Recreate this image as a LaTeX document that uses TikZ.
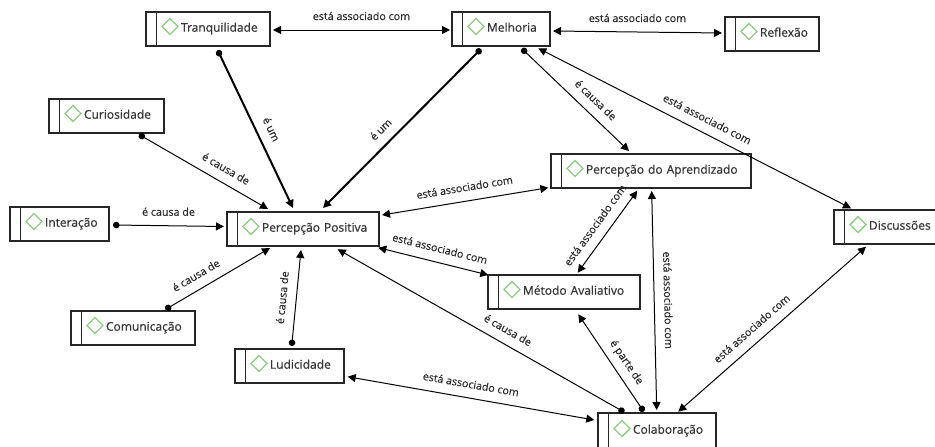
\documentclass[tikz,border=0pt]{standalone}
\usepackage{fontspec}
\setmainfont{Open Sans}
\newfontfamily\boxfamily[FakeBold=0.6]{Open Sans}
\newfontfamily\lblfamily[FakeBold=0.2]{Open Sans}
\usetikzlibrary{arrows.meta}
\definecolor{boxcol}{HTML}{262626}
\definecolor{txtcol}{HTML}{363636}
\definecolor{lbltxt}{HTML}{2A2A2A}
\definecolor{diacol}{HTML}{8CCF7E}
\newcommand{\nfont}{\boxfamily\fontsize{12}{14}\selectfont}
\newcommand{\lfont}{\lblfamily\fontsize{10.7}{12}\selectfont}
\begin{document}
\begin{tikzpicture}[x=1pt,y=-1pt,
  cbox/.style={draw=boxcol, line width=1.2pt, fill=white, minimum height=34pt,
    inner xsep=0pt, inner ysep=0pt, text width=#1, align=left, font=\nfont,
    text=txtcol, text height=8pt, text depth=2.6pt,
    path picture={
      \draw[boxcol, line width=1.1pt] ([xshift=10.5pt]path picture bounding box.north west) -- ([xshift=10.5pt]path picture bounding box.south west);
      \draw[diacol, line width=1.4pt] ([xshift=16pt,yshift=2.5pt]path picture bounding box.west) -- ++(8pt,8pt) -- ++(8pt,-8pt) -- ++(-8pt,-8pt) -- cycle;
    }},
  link/.style={line width=1pt, draw=black},
  thicklink/.style={line width=2pt, draw=black},
  dd/.style={arrows={Triangle[length=8pt,width=8pt]-Triangle[length=8pt,width=8pt]}},
  dA/.style={arrows={Circle[length=6.5pt]-Triangle[length=8pt,width=8pt]}},
  Ad/.style={arrows={Triangle[length=8pt,width=8pt]-Circle[length=6.5pt]}},
  lbl/.style={font=\lfont, text=lbltxt, inner xsep=0pt, inner ysep=9.5pt, text height=8pt, text depth=0pt}
]
\useasboundingbox (0,0) rectangle (935,447);
\fill[white] (0,0) rectangle (935,447);
\clip (0,0) rectangle (935,447);

\node[cbox=124pt] (tranq) at (208,29) {\hspace*{35pt}Tranquilidade};
\node[cbox=98pt] (melh) at (501,29) {\hspace*{35pt}Melhoria};
\node[cbox=94pt] (refl) at (772,34) {\hspace*{35pt}Reflexão};
\node[cbox=115pt] (curio) at (106.5,116) {\hspace*{35pt}Curiosidade};
\node[cbox=99pt] (inter) at (59.5,224) {\hspace*{35pt}Interação};
\node[cbox=152pt] (pp) at (303,229) {\hspace*{35pt}Percepção Positiva};
\node[cbox=200pt] (pa) at (651,171) {\hspace*{35pt}Percepção do Aprendizado};
\node[cbox=108pt] (disc) at (888,227) {\hspace*{35pt}Discussões};
\node[cbox=124pt] (comu) at (133,328) {\hspace*{35pt}Comunicação};
\node[cbox=109pt] (ludi) at (289.5,366) {\hspace*{35pt}Ludicidade};
\node[cbox=152pt] (meto) at (564,292) {\hspace*{35pt}Método Avaliativo};
\node[cbox=118pt, minimum height=36pt] (colab) at (657,431) {\hspace*{35pt}Colaboração};

% C1
\draw[link,dd] ([shift={(65,1)}]tranq.center) -- ([shift={(-51,1)}]melh.center)
  node[lbl,midway,above] {está associado com};
% C2
\draw[link,dd] ([shift={(52,2)}]melh.center) -- ([shift={(-50,-1)}]refl.center)
  node[lbl,midway,above] {está associado com};
% C3
\draw[thicklink,dA] ([shift={(9.7,21.3)}]tranq.center) -- ([shift={(-10,-21)}]pp.center)
  node[lbl,pos=0.54,sloped,above] {é um};
% C4
\draw[thicklink,Ad] ([shift={(20,-21)}]pp.center) -- ([shift={(-20,20)}]melh.center)
  node[lbl,pos=0.43,sloped,above] {é um};
% C5
\draw[link,dA] ([shift={(32.5,18.5)}]curio.center) -- ([shift={(-35,-20)}]pp.center)
  node[lbl,pos=0.62,sloped,above] {é causa de};
% C6
\draw[link,dA] ([shift={(53.5,1)}]inter.center) -- ([shift={(-79,-2.5)}]pp.center)
  node[lbl,pos=0.5,above] {é causa de};
% C7
\draw[link,dA] ([shift={(32.4,-18.5)}]comu.center) -- ([shift={(-33,19)}]pp.center)
  node[lbl,pos=0.36,sloped,above] {é causa de};
% C8
\draw[link,dA] ([shift={(2.2,-20)}]ludi.center) -- ([shift={(-2,21)}]pp.center)
  node[lbl,pos=0.49,sloped,above] {é causa de};
% C9
\draw[link,dA] ([shift={(20.8,19.6)}]melh.center) -- ([shift={(-22,-20)}]pa.center)
  node[lbl,pos=0.6,sloped,above] {é causa de};
% C10
\draw[link,dd] ([shift={(37.3,19.3)}]melh.center) -- ([shift={(-37,-18.7)}]disc.center)
  node[lbl,pos=0.52,sloped,above] {está associado com};
% C11
\draw[link,dd] ([shift={(79,-14)}]pp.center) -- ([shift={(-102.7,16.7)}]pa.center)
  node[lbl,pos=0.51,sloped,above] {está associado com};
% C12
\draw[link,dd] ([shift={(75.3,18.7)}]pp.center) -- ([shift={(-75.7,-17)}]meto.center)
  node[lbl,pos=0.53,sloped,above] {está associado com};
% C13
\draw[link,dd] ([shift={(13.7,-19.3)}]meto.center) -- ([shift={(-13.7,19.7)}]pa.center)
  node[lbl,pos=0.48,sloped,above] {está associado com};
% C14
\draw[link,dd] ([shift={(0.7,20)}]pa.center) -- ([shift={(-0.3,-21)}]colab.center)
  node[lbl,pos=0.5,sloped,above] {está associado com};
% C15
\draw[link,Ad] ([shift={(14.3,22.3)}]meto.center) -- ([shift={(-13.3,-19.5)}]colab.center)
  node[lbl,pos=0.57,sloped,above] {é parte de};
% C16
\draw[link,Ad] ([shift={(34.7,20.3)}]pp.center) -- ([shift={(-32.7,-18.8)}]colab.center)
  node[lbl,pos=0.57,sloped,above] {é causa de};
% C17
\draw[link,dd] ([shift={(58.2,10.7)}]ludi.center) -- ([shift={(-62.7,-11)}]colab.center)
  node[lbl,pos=0.49,sloped,above] {está associado com};
% C18
\draw[link,dd] ([shift={(21.3,-19.3)}]colab.center) -- ([shift={(-22,19.7)}]disc.center)
  node[lbl,pos=0.44,sloped,above] {está associado com};
\end{tikzpicture}
\end{document}
